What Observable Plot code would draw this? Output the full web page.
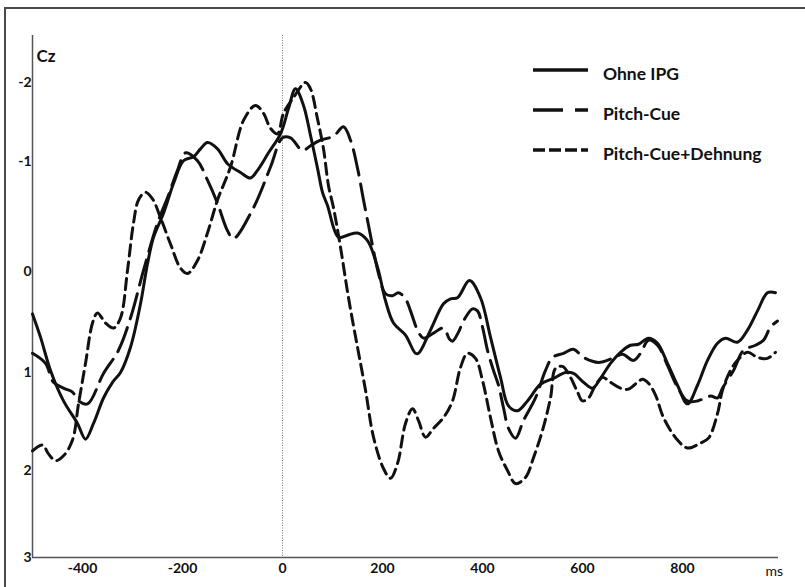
<!DOCTYPE html>
<html>
<head>
<meta charset="utf-8">
<script src="https://cdn.jsdelivr.net/npm/d3@7"></script>
<script src="https://cdn.jsdelivr.net/npm/@observablehq/plot@0.6"></script>
<style>
  html, body { margin: 0; padding: 0; background: #fff; overflow: hidden; }
  #wrap { position: relative; width: 805px; height: 587px; overflow: hidden; font-family: Lato, "Open Sans", sans-serif; }
  #frame { position: absolute; left: 4px; top: 7px; width: 820px; height: 600px;
           border-left: 2px solid #4a4a4a; border-top: 2px solid #4a4a4a; }
  #chart, #legend { position: absolute; left: 0; top: 0; }
</style>
</head>
<body>
<div id="wrap">
  <div id="frame"></div>
  <div id="chart"></div>
  <svg id="legend" width="805" height="587"></svg>
</div>
<script>
// ERP at electrode Cz: three conditions, amplitude in µV (negative up), time in ms
const seriesNames = ["Ohne IPG", "Pitch-Cue", "Pitch-Cue+Dehnung"];

const xTicks = [-400, -200, 0, 200, 400, 600, 800];
const yTicks = [-2, -1, 0, 1, 2, 3];
const xDomain = [-500, 992];
// the printed amplitude labels are unevenly spaced, so the y axis is warped piecewise
const yDomain = [-2.6, -2, -1, 0, 1, 2, 3];

const ohneMs = [-500, -484, -464, -438, -410, -394, -378, -358, -340, -324, -304, -284, -270, -258, -238, -218, -198, -178, -164, -150, -130, -110, -84, -64, -50, -28, -4, 12, 26, 42, 56, 70, 80, 90, 112, 130, 150, 170, 190, 206, 222, 246, 266, 272, 296, 322, 336, 350, 374, 396, 416, 436, 452, 470, 490, 516, 542, 566, 582, 602, 620, 636, 656, 676, 696, 712, 732, 750, 770, 790, 810, 830, 850, 870, 886, 910, 930, 950, 970, 986];
const ohneUv = [0.42, 0.65, 0.98, 1.29, 1.52, 1.68, 1.52, 1.26, 1.10, 1.00, 0.75, 0.32, -0.07, -0.31, -0.53, -0.80, -1.01, -1.06, -1.16, -1.24, -1.16, -0.98, -0.90, -0.85, -0.92, -1.11, -1.35, -1.67, -1.92, -1.71, -1.33, -0.94, -0.72, -0.60, -0.31, -0.33, -0.35, -0.28, -0.04, 0.29, 0.51, 0.63, 0.81, 0.81, 0.58, 0.32, 0.27, 0.26, 0.09, 0.26, 0.65, 1.05, 1.34, 1.39, 1.29, 1.12, 1.06, 1.00, 1.01, 1.10, 1.16, 1.06, 0.91, 0.80, 0.73, 0.72, 0.66, 0.71, 0.91, 1.13, 1.32, 1.13, 0.88, 0.71, 0.66, 0.70, 0.58, 0.39, 0.21, 0.21];

const pitchMs = [-500, -474, -458, -438, -420, -408, -390, -358, -328, -304, -278, -250, -230, -210, -194, -170, -150, -130, -110, -98, -58, -24, 0, 16, 40, 56, 76, 102, 122, 136, 150, 162, 172, 182, 192, 206, 220, 232, 246, 256, 270, 282, 302, 322, 334, 340, 352, 362, 380, 390, 400, 410, 422, 432, 442, 452, 466, 482, 506, 526, 540, 562, 582, 602, 632, 660, 680, 702, 716, 732, 750, 770, 790, 810, 830, 856, 870, 880, 902, 922, 946, 962, 976, 990];
const pitchUv = [0.81, 0.91, 1.10, 1.16, 1.20, 1.29, 1.32, 1.01, 0.78, 0.46, -0.01, -0.44, -0.67, -0.92, -1.11, -1.01, -0.83, -0.62, -0.37, -0.30, -0.58, -0.95, -1.30, -1.30, -1.14, -1.20, -1.27, -1.32, -1.44, -1.27, -0.94, -0.65, -0.42, -0.19, 0.02, 0.22, 0.24, 0.21, 0.27, 0.39, 0.58, 0.66, 0.61, 0.56, 0.67, 0.69, 0.60, 0.49, 0.37, 0.39, 0.55, 0.78, 0.98, 1.13, 1.36, 1.57, 1.67, 1.49, 1.26, 0.98, 0.85, 0.81, 0.77, 0.85, 0.90, 0.86, 0.82, 0.88, 0.81, 0.68, 0.73, 0.93, 1.15, 1.29, 1.29, 1.24, 1.26, 1.16, 0.98, 0.78, 0.73, 0.68, 0.55, 0.49];

const dehnMs = [-500, -480, -468, -454, -438, -420, -408, -394, -380, -370, -354, -338, -324, -310, -298, -288, -274, -260, -244, -224, -204, -190, -170, -150, -130, -104, -78, -54, -38, -24, -10, 2, 22, 46, 56, 70, 82, 92, 102, 116, 132, 150, 166, 182, 202, 216, 230, 246, 260, 272, 286, 302, 322, 340, 356, 370, 386, 400, 416, 432, 450, 466, 486, 502, 520, 536, 546, 560, 576, 590, 600, 612, 626, 640, 656, 676, 692, 710, 720, 732, 746, 762, 790, 810, 836, 852, 870, 880, 896, 910, 930, 950, 970, 986];
const dehnUv = [1.80, 1.74, 1.83, 1.90, 1.85, 1.69, 1.32, 0.91, 0.51, 0.41, 0.51, 0.56, 0.46, -0.01, -0.44, -0.65, -0.72, -0.66, -0.49, -0.25, -0.03, 0.02, -0.10, -0.35, -0.65, -0.95, -1.52, -1.71, -1.61, -1.42, -1.35, -1.61, -1.81, -2.00, -1.92, -1.54, -1.16, -0.78, -0.58, -0.22, 0.26, 0.75, 1.18, 1.66, 1.98, 2.09, 1.93, 1.52, 1.37, 1.49, 1.66, 1.57, 1.46, 1.29, 0.95, 0.81, 0.86, 1.08, 1.46, 1.80, 2.00, 2.15, 2.08, 1.87, 1.59, 1.26, 0.96, 0.94, 1.05, 1.20, 1.29, 1.26, 1.13, 1.05, 1.10, 1.16, 1.17, 1.10, 1.07, 1.11, 1.23, 1.46, 1.69, 1.77, 1.72, 1.67, 1.42, 1.18, 0.98, 0.88, 0.80, 0.85, 0.86, 0.80];

const seriesMs = [ohneMs, pitchMs, dehnMs];
const seriesUv = [ohneUv, pitchUv, dehnUv];

// line styles per condition
const dashStyles = [null, "26,9", "11,6"];
const legendDash = [null, "30,12", "12,4"];

const rows = seriesNames.map((name, i) =>
  seriesMs[i].map((ms, j) => ({series: name, ms, uv: seriesUv[i][j]}))
);

// piecewise warp of amplitude onto vertical offset (px below the plot top)
const yOffsets = [0, 47, 126, 236, 337, 435, 522];
const yWarp = d3.scaleLinear().domain(yDomain).range(yOffsets);

const ink = "#111";
const axisInk = "#555";

const chart = Plot.plot({
  width: 805,
  height: 587,
  marginLeft: 32,
  marginRight: 27,
  marginTop: 35,
  marginBottom: 30,
  style: {fontFamily: "Lato, 'Open Sans', sans-serif", fontSize: "14px", color: ink, background: "transparent"},
  x: {domain: xDomain},
  y: {transform: v => yWarp(v), domain: [yOffsets[0], yOffsets[yOffsets.length - 1]], reverse: true, axis: null},
  marks: [
    Plot.ruleX([0], {stroke: "#777", strokeWidth: 1, strokeDasharray: "1,1.5"}),
    Plot.ruleX([xDomain[0]], {stroke: axisInk, strokeWidth: 1.5}),
    Plot.ruleY([yDomain[yDomain.length - 1]], {stroke: axisInk, strokeWidth: 1.5}),
    ...rows.map((data, i) => Plot.line(data, {
      x: "ms", y: "uv",
      stroke: ink, strokeWidth: 3,
      strokeDasharray: dashStyles[i],
      curve: "catmull-rom"
    })),
    Plot.axisX({ticks: xTicks, tickSize: 0, tickPadding: 6, tickFormat: d => String(d),
                fontWeight: "bold", fontSize: 14, label: null}),
    // amplitude tick labels, right-aligned against the left axis line
    Plot.text(yTicks, {y: d => d, text: d => String(d), frameAnchor: "left",
                       textAnchor: "end", dx: -1, fontWeight: "bold", fontSize: 14}),
    Plot.text(["Cz"], {text: d => d, frameAnchor: "top-left", textAnchor: "start",
                       dx: 4, dy: 14, fontSize: 17, fontWeight: "bold"}),
    Plot.text(["ms"], {text: d => d, frameAnchor: "bottom-right", textAnchor: "start",
                       dx: -13, dy: 18, fontSize: 14})
  ]
});
document.getElementById("chart").append(chart);

// legend block, upper right
const legendRowsY = [70, 110, 150];
const legend = d3.select("#legend");
seriesNames.forEach((name, i) => {
  legend.append("line")
    .attr("x1", 533).attr("x2", 588)
    .attr("y1", legendRowsY[i]).attr("y2", legendRowsY[i])
    .attr("stroke", ink).attr("stroke-width", 3.5)
    .attr("stroke-dasharray", legendDash[i]);
  legend.append("text")
    .attr("x", 603).attr("y", legendRowsY[i] + 3)
    .attr("dominant-baseline", "central")
    .attr("font-family", "Lato, 'Open Sans', sans-serif")
    .attr("font-size", 17.5).attr("font-weight", "bold")
    .attr("fill", ink)
    .text(name);
});
</script>
</body>
</html>
